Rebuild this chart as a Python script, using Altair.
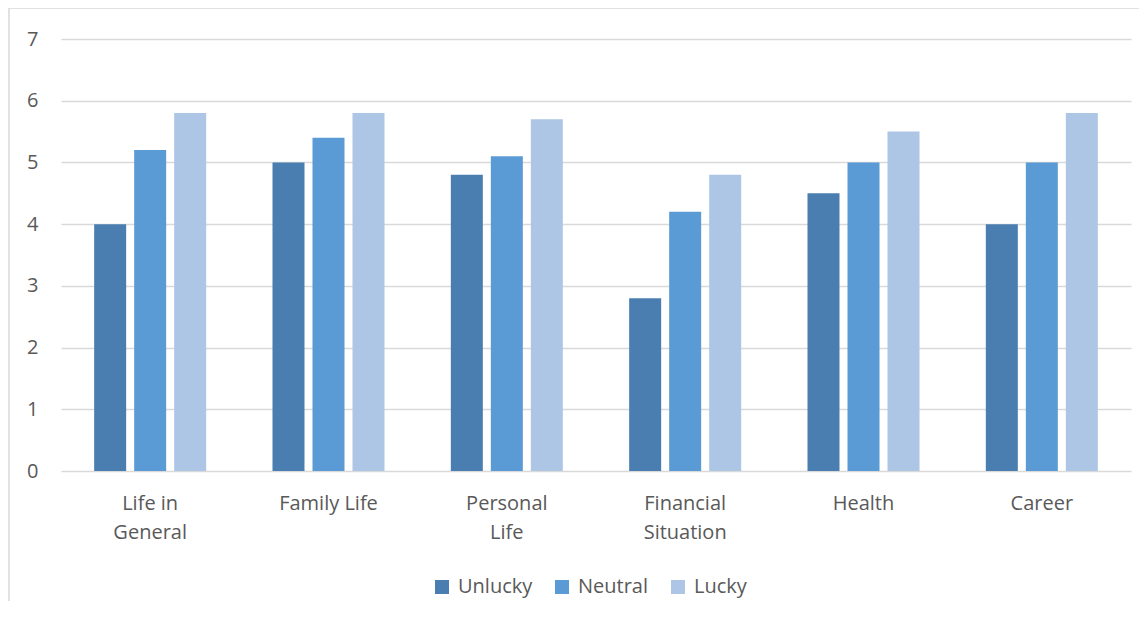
import altair as alt
import pandas as pd

categories = ["Life in|General", "Family Life", "Personal|Life", "Financial|Situation", "Health", "Career"]
series = ["Unlucky", "Neutral", "Lucky"]
unlucky = [4.0, 5.0, 4.8, 2.8, 4.5, 4.0]
neutral = [5.2, 5.4, 5.1, 4.2, 5.0, 5.0]
lucky = [5.8, 5.8, 5.7, 4.8, 5.5, 5.8]
colors = ["#4a7eb0", "#5b9bd5", "#adc6e6"]
y_ticks = [0, 1, 2, 3, 4, 5, 6, 7]

rows = []
for i, c in enumerate(categories):
    for s, vals in zip(series, [unlucky, neutral, lucky]):
        rows.append({"category": c, "series": s, "value": vals[i]})
df = pd.DataFrame(rows)

FONT = "Open Sans"
TXT = "#595959"
FS = 20

bars = alt.Chart(df).mark_bar().encode(
    x=alt.X("category:N", sort=categories, title=None,
            scale=alt.Scale(paddingInner=0.327, paddingOuter=0.1635),
            axis=alt.Axis(labelExpr="split(datum.label, '|')", labelAngle=0,
                          labelFontSize=FS, labelColor=TXT, labelFont=FONT,
                          labelPadding=22, labelLineHeight=29, ticks=False,
                          domain=False, labelBaseline="top")),
    xOffset=alt.XOffset("series:N", sort=series,
                        scale=alt.Scale(paddingInner=0.2, paddingOuter=0.1)),
    y=alt.Y("value:Q", title=None,
            scale=alt.Scale(domain=[0, 7], nice=False),
            axis=alt.Axis(values=y_ticks, labelFontSize=FS, labelColor=TXT,
                          labelFont=FONT, labelPadding=23, ticks=False,
                          domain=False, gridColor="#d9d9d9", gridWidth=1.3)),
    color=alt.Color("series:N", sort=series,
                    scale=alt.Scale(domain=series, range=colors),
                    legend=alt.Legend(title=None, orient="none", direction="horizontal",
                                      legendX=371, legendY=538,
                                      symbolType="square", symbolSize=196,
                                      symbolStrokeWidth=0, labelFontSize=FS,
                                      labelColor=TXT, labelFont=FONT,
                                      labelOffset=6, columnPadding=19)),
)

one = alt.Chart(pd.DataFrame({"a": [0]}))
left_border = one.mark_rule(color="#d9d9d9", strokeWidth=1.5).encode(
    x=alt.value(-52), y=alt.value(-31), y2=alt.value(620))
top_border = one.mark_rule(color="#d9d9d9", strokeWidth=1.5).encode(
    x=alt.value(-52), x2=alt.value(1100), y=alt.value(-31))

chart = alt.layer(bars, left_border, top_border).properties(
    width=1070, height=432,
    autosize=alt.AutoSizeParams(type="none"),
    padding={"left": 53, "top": 31, "right": 8, "bottom": 130},
).configure(background="white").configure_view(stroke=None)

chart.save("out.html", embed_options={"renderer": "svg", "actions": False})
